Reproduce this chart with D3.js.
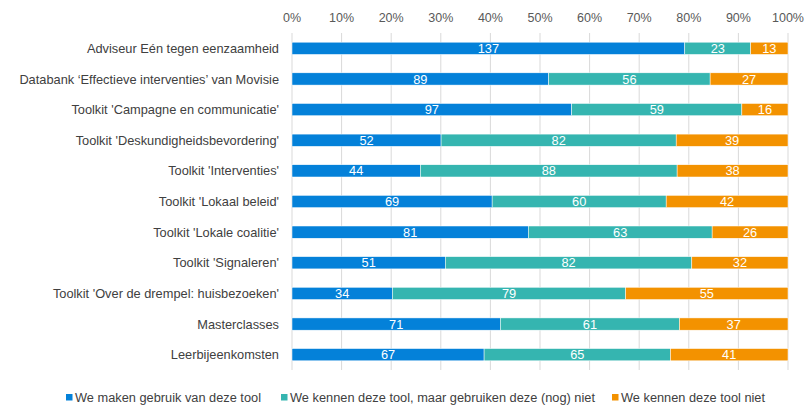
<!DOCTYPE html>
<html><head><meta charset="utf-8">
<script src="https://cdn.jsdelivr.net/npm/d3@7/dist/d3.min.js"></script>
<style>body{margin:0;background:#fff;} text{font-family:"Liberation Sans",Arial,sans-serif;}</style>
</head><body>
<svg id="c" width="805" height="405"></svg>
<script>
const categories = ["Adviseur Eén tegen eenzaamheid","Databank ‘Effectieve interventies’ van Movisie","Toolkit 'Campagne en communicatie'","Toolkit 'Deskundigheidsbevordering'","Toolkit 'Interventies'","Toolkit 'Lokaal beleid'","Toolkit 'Lokale coalitie'","Toolkit 'Signaleren'","Toolkit 'Over de drempel: huisbezoeken'","Masterclasses","Leerbijeenkomsten"];
const seriesNames = ["We maken gebruik van deze tool","We kennen deze tool, maar gebruiken deze (nog) niet","We kennen deze tool niet"];
const gebruik = [137,89,97,52,44,69,81,51,34,71,67];
const kennenNiet = [23,56,59,82,88,60,63,82,79,61,65];
const onbekend = [13,27,16,39,38,42,26,32,55,37,41];
const tickValues = [0,0.1,0.2,0.3,0.4,0.5,0.6,0.7,0.8,0.9,1];
const colors = ["#0481d9","#35b5b0","#f39200"];

const svg = d3.select("#c");
const x = d3.scaleLinear().domain([0,1]).range([292,788]);
const y = d3.scaleBand().domain(categories).range([33,370]).paddingInner(0.6).paddingOuter(0.3);

svg.append("g").selectAll("line").data(tickValues).join("line")
  .attr("x1",d=>x(d)).attr("x2",d=>x(d)).attr("y1",33).attr("y2",370)
  .attr("stroke","#d9d9d9").attr("stroke-width",1);

svg.append("g").selectAll("text").data(tickValues).join("text")
  .attr("x",d=>x(d)).attr("y",22).attr("text-anchor","middle")
  .attr("font-size",12.5).attr("fill","#595959")
  .text(d=>d3.format(".0%")(d));

const rows = categories.map((c,i)=>({cat:c, vals:[gebruik[i],kennenNiet[i],onbekend[i]]}));
const g = svg.append("g");
rows.forEach(r=>{
  const tot = d3.sum(r.vals);
  let acc = 0;
  r.vals.forEach((v,k)=>{
    const x0 = x(acc/tot), x1 = x((acc+v)/tot);
    g.append("rect").attr("x",x0).attr("y",y(r.cat)).attr("width",x1-x0).attr("height",y.bandwidth())
      .attr("fill",colors[k]).attr("stroke","#fff").attr("stroke-width",0.5);
    g.append("text").attr("x",(x0+x1)/2).attr("y",y(r.cat)+y.bandwidth()/2+4.6)
      .attr("text-anchor","middle").attr("font-size",12.8).attr("fill","#fff").text(v);
    acc += v;
  });
});

svg.append("g").selectAll("text").data(categories).join("text")
  .attr("x",279).attr("y",d=>y(d)+y.bandwidth()/2+4.6).attr("text-anchor","end")
  .attr("font-size",12.8).attr("fill","#404040").text(d=>d);

const legX = [66,281,612];
const legW = [186,305,144];
const leg = svg.append("g");
seriesNames.forEach((s,k)=>{
  leg.append("rect").attr("x",legX[k]).attr("y",394).attr("width",6.5).attr("height",6.5).attr("fill",colors[k]);
  leg.append("text").attr("x",legX[k]+9).attr("y",401.5).attr("font-size",12.5).attr("fill","#404040")
    .attr("textLength",legW[k]).attr("lengthAdjust","spacingAndGlyphs").text(s);
});
</script>
</body></html>
